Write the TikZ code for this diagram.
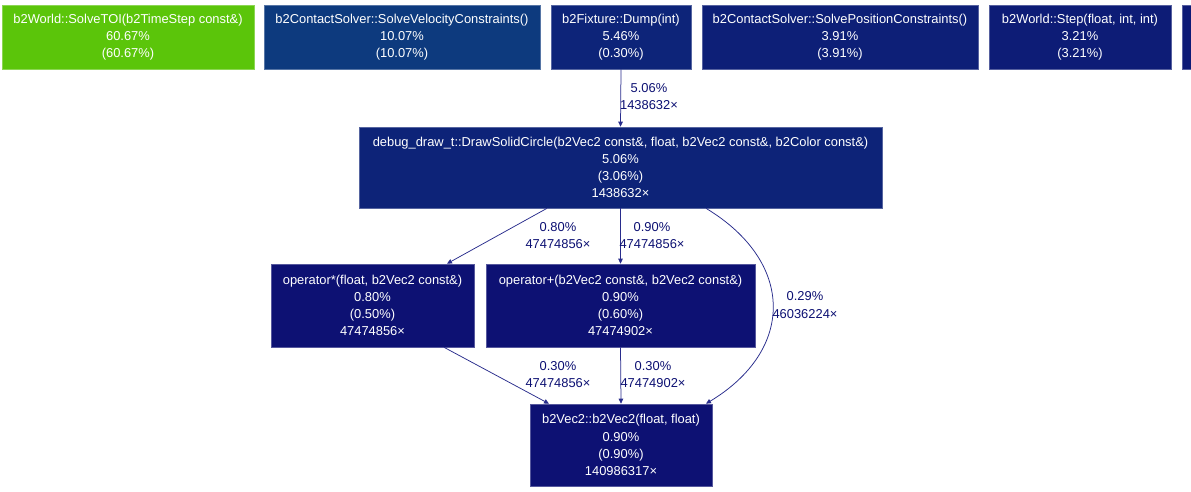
\documentclass[tikz,border=0pt]{standalone}
\usepackage{fontspec}
\setmainfont{Liberation Sans}
\usetikzlibrary{arrows.meta}
\definecolor{cgreen}{RGB}{91,197,10}
\definecolor{csvc}{RGB}{13,58,126}
\definecolor{cdump}{RGB}{13,36,121}
\definecolor{cspc}{RGB}{13,31,119}
\definecolor{cstep}{RGB}{13,28,118}
\definecolor{csix}{RGB}{13,26,118}
\definecolor{cdbg}{RGB}{13,35,120}
\definecolor{clow}{RGB}{13,17,115}
\definecolor{cedge}{RGB}{40,44,140}
\begin{document}
\begin{tikzpicture}[x=1pt,y=-1pt,
  callbox/.style={rectangle, fill=#1, draw=#1!70!white, line width=0.6pt,
    text=white, font=\fontsize{12.9}{17.2}\selectfont, align=center, inner sep=0pt},
  calledge/.style={draw=cedge, line width=0.75pt, -{Triangle[length=5pt,width=4.5pt]}},
  elabel/.style={text=clow, font=\fontsize{12.9}{17.2}\selectfont, align=center, inner sep=0pt}]
\useasboundingbox (0,0) rectangle (1191,491);
\fill[white] (0,0) rectangle (1191,491);

% top row
\node[callbox=cgreen, minimum width=252pt, minimum height=64pt] (sto) at (128,37)
  {b2World::SolveTOI(b2TimeStep const\&)\\60.67\%\\(60.67\%)};
\node[callbox=csvc, minimum width=276pt, minimum height=64pt] (svc) at (402,37)
  {b2ContactSolver::SolveVelocityConstraints()\\10.07\%\\(10.07\%)};
\node[callbox=cdump, minimum width=140pt, minimum height=64pt] (dump) at (621,37)
  {b2Fixture::Dump(int)\\5.46\%\\(0.30\%)};
\node[callbox=cspc, minimum width=276pt, minimum height=64pt] (spc) at (840,37)
  {b2ContactSolver::SolvePositionConstraints()\\3.91\%\\(3.91\%)};
\node[callbox=cstep, minimum width=182pt, minimum height=64pt] (step1) at (1080,37)
  {b2World::Step(float, int, int)\\3.21\%\\(3.21\%)};
\node[callbox=csix, minimum width=80pt, minimum height=64pt] (six) at (1222,37) {};

% middle
\node[callbox=cdbg, minimum width=523pt, minimum height=81pt] (dbg) at (620.5,167.5)
  {debug\_draw\_t::DrawSolidCircle(b2Vec2 const\&, float, b2Vec2 const\&, b2Color const\&)\\5.06\%\\(3.06\%)\\1438632×};

\node[callbox=clow, minimum width=203pt, minimum height=83pt] (opmul) at (372.5,305.5)
  {operator*(float, b2Vec2 const\&)\\0.80\%\\(0.50\%)\\47474856×};
\node[callbox=clow, minimum width=269pt, minimum height=83pt] (opadd) at (620.5,305.5)
  {operator+(b2Vec2 const\&, b2Vec2 const\&)\\0.90\%\\(0.60\%)\\47474902×};

\node[callbox=clow, minimum width=182pt, minimum height=82pt] (vec) at (621,445)
  {b2Vec2::b2Vec2(float, float)\\0.90\%\\(0.90\%)\\140986317×};

% edges
\draw[calledge] (dump.south) -- (dbg.north);
\draw[calledge] ([xshift=-73.5pt]dbg.south) -- ([xshift=74.5pt]opmul.north);
\draw[calledge] (dbg.south) -- (opadd.north);
\draw[calledge] ([xshift=85.5pt]dbg.south) .. controls (795,262) and (795,350) .. ([xshift=85pt]vec.north);
\draw[calledge] ([xshift=71.5pt]opmul.south) -- ([xshift=-72pt]vec.north);
\draw[calledge] (opadd.south) -- (vec.north);

% edge labels
\node[elabel] (l1) at (649,96.5) {5.06\%\\1438632×};
\node[elabel] (l2) at (558,235.5) {0.80\%\\47474856×};
\node[elabel] (l3) at (652,235.5) {0.90\%\\47474856×};
\node[elabel] (l4) at (805,305) {0.29\%\\46036224×};
\node[elabel] (l5) at (558,374.5) {0.30\%\\47474856×};
\node[elabel] (l6) at (653,374.5) {0.30\%\\47474902×};
\end{tikzpicture}
\end{document}
